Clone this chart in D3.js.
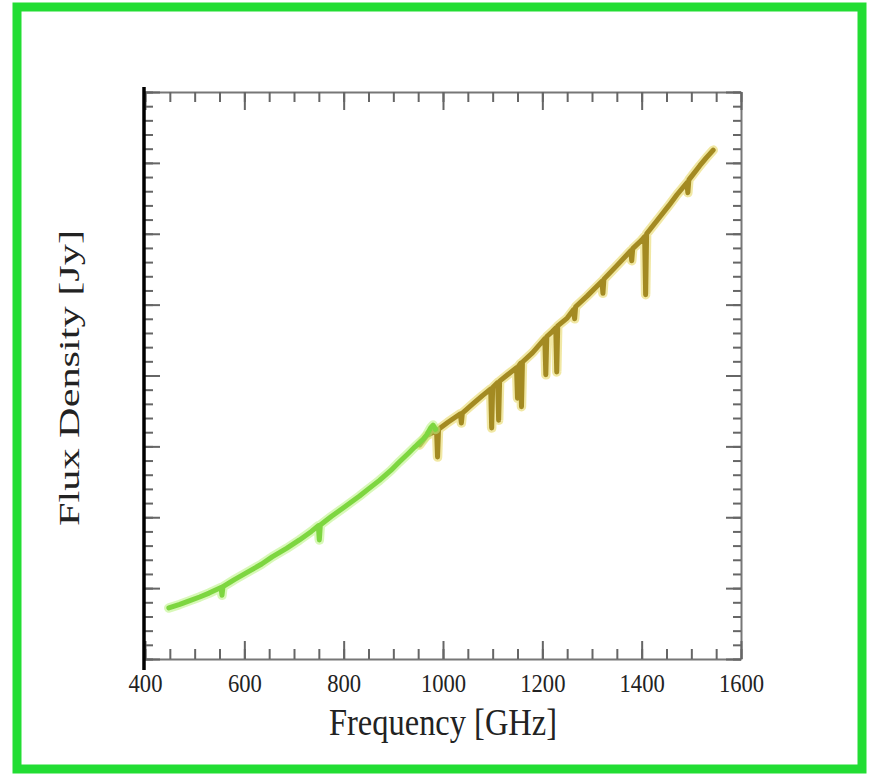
<!DOCTYPE html>
<html>
<head>
<meta charset="utf-8">
<script src="https://cdn.jsdelivr.net/npm/d3@7"></script>
<style>
  body { margin: 0; background: #fff; }
  svg { display: block; }
  text { font-family: 'Liberation Serif', 'DejaVu Serif', serif; fill: #222; }
</style>
</head>
<body>
<div id="root"></div>
<script>
// green spectrum (low frequency band)
const greenFreq = [448, 470, 489, 510, 529, 553, 555, 557, 580, 610, 635, 656, 685, 711, 735, 749, 751, 753,
  775, 801, 832, 850, 872, 895, 912, 930, 943, 960, 967, 975, 980, 985];
const greenFlux = [0.72, 0.77, 0.82, 0.875, 0.93, 1.01, 0.90, 1.02, 1.12, 1.24, 1.34, 1.44, 1.56, 1.68, 1.80, 1.88, 1.68, 1.89,
  2.01, 2.14, 2.30, 2.40, 2.52, 2.66, 2.78, 2.90, 2.99, 3.10, 3.16, 3.26, 3.30, 3.24];

// olive spectrum (high frequency band), narrow dips are absorption lines
const oliveFreq = [953, 967, 980, 987, 989, 991, 1010, 1035, 1037, 1039, 1060, 1080, 1096, 1098, 1100, 1110, 1112, 1114,
  1130, 1148, 1150, 1152, 1156, 1158, 1160, 1180, 1205, 1207, 1209, 1220, 1227, 1229, 1231, 1250, 1263, 1265, 1267,
  1290, 1320, 1322, 1324, 1350, 1378, 1380, 1382, 1400, 1406, 1408, 1410, 1437, 1455, 1471, 1491, 1493, 1495,
  1517, 1530, 1544];
const oliveFlux = [3.02, 3.15, 3.20, 3.23, 2.85, 3.24, 3.34, 3.46, 3.33, 3.47, 3.60, 3.72, 3.81, 3.26, 3.83, 3.90, 3.37, 3.92,
  4.01, 4.11, 3.68, 4.13, 4.17, 3.56, 4.19, 4.32, 4.52, 4.01, 4.55, 4.62, 4.67, 4.05, 4.70, 4.81, 4.93, 4.80, 4.97,
  5.12, 5.33, 5.16, 5.36, 5.55, 5.76, 5.62, 5.79, 5.91, 5.96, 5.14, 6.00, 6.24, 6.40, 6.55, 6.72, 6.58, 6.76,
  6.96, 7.07, 7.18];

// ticks
const xMajor = [400, 600, 800, 1000, 1200, 1400, 1600];
const xMinor = d3.range(400, 1601, 50);
const yMajor = d3.range(0, 9);
const yMinor = d3.range(0, 41).map(i => i / 5);

const w = 869;
const h = 776;

const svg = d3.select('#root')
  .append('svg')
  .attr('width', w)
  .attr('height', h);

svg.append('rect')
  .attr('width', w)
  .attr('height', h)
  .attr('fill', '#fff');

// green frame
svg.append('rect')
  .attr('x', 17)
  .attr('y', 7)
  .attr('width', 845)
  .attr('height', 762)
  .attr('fill', 'none')
  .attr('stroke', '#22dd33')
  .attr('stroke-width', 9);

const xScale = d3.scaleLinear().domain([400, 1600]).range([145, 741]);
const yScale = d3.scaleLinear().domain([0, 8]).range([659, 92]);

function styleAxis(g, showDomain) {
  g.select('.domain')
    .attr('stroke', showDomain ? '#777' : 'none')
    .attr('stroke-width', 2);
  g.selectAll('.tick line')
    .attr('stroke', '#666')
    .attr('stroke-width', 2);
}

// minor ticks (all inward)
const bottomMinor = svg.append('g')
  .attr('transform', `translate(0, ${yScale(0)})`)
  .call(d3.axisBottom(xScale).tickValues(xMinor).tickSize(-10).tickSizeOuter(0).tickFormat(''));
styleAxis(bottomMinor, true);

const topMinor = svg.append('g')
  .attr('transform', `translate(0, ${yScale(8)})`)
  .call(d3.axisTop(xScale).tickValues(xMinor).tickSize(-10).tickSizeOuter(0).tickFormat(''));
styleAxis(topMinor, true);

const rightMinor = svg.append('g')
  .attr('transform', `translate(${xScale(1600)}, 0)`)
  .call(d3.axisRight(yScale).tickValues(yMinor).tickSize(-8).tickSizeOuter(0).tickFormat(''));
styleAxis(rightMinor, true);

const leftMinor = svg.append('g')
  .attr('transform', `translate(${xScale(400)}, 0)`)
  .call(d3.axisLeft(yScale).tickValues(yMinor).tickSize(-8).tickSizeOuter(0).tickFormat(''));
styleAxis(leftMinor, false);

// major ticks
const bottomMajor = svg.append('g')
  .attr('transform', `translate(0, ${yScale(0)})`)
  .call(d3.axisBottom(xScale).tickValues(xMajor).tickSize(-18).tickSizeOuter(0).tickPadding(15).tickFormat(d3.format('d')));
styleAxis(bottomMajor, false);
bottomMajor.selectAll('.tick text')
  .attr('font-family', "'Liberation Serif', serif")
  .attr('font-size', 26)
  .attr('fill', '#333')
  .attr('textLength', d => String(d).length * 11.3)
  .attr('lengthAdjust', 'spacingAndGlyphs');

const topMajor = svg.append('g')
  .attr('transform', `translate(0, ${yScale(8)})`)
  .call(d3.axisTop(xScale).tickValues(xMajor).tickSize(-18).tickSizeOuter(0).tickFormat(''));
styleAxis(topMajor, false);

const rightMajor = svg.append('g')
  .attr('transform', `translate(${xScale(1600)}, 0)`)
  .call(d3.axisRight(yScale).tickValues(yMajor).tickSize(-15).tickSizeOuter(0).tickFormat(''));
styleAxis(rightMajor, false);

const leftMajor = svg.append('g')
  .attr('transform', `translate(${xScale(400)}, 0)`)
  .call(d3.axisLeft(yScale).tickValues(yMajor).tickSize(-15).tickSizeOuter(0).tickFormat(''));
styleAxis(leftMajor, false);

// thick black left axis line
svg.append('line')
  .attr('x1', xScale(400) - 1)
  .attr('x2', xScale(400) - 1)
  .attr('y1', yScale(8) - 5)
  .attr('y2', yScale(0) + 11)
  .attr('stroke', '#000')
  .attr('stroke-width', 3.5);

// spectra
const line = d3.line()
  .x(d => xScale(d[0]))
  .y(d => yScale(d[1]));

const green = greenFreq.map((f, i) => [f, greenFlux[i]]);
const olive = oliveFreq.map((f, i) => [f, oliveFlux[i]]);

function drawSpectrum(data, halo, core) {
  svg.append('path')
    .datum(data)
    .attr('d', line)
    .attr('fill', 'none')
    .attr('stroke', halo)
    .attr('stroke-opacity', 0.55)
    .attr('stroke-width', 9.5)
    .attr('stroke-linejoin', 'round')
    .attr('stroke-linecap', 'round');
  svg.append('path')
    .datum(data)
    .attr('d', line)
    .attr('fill', 'none')
    .attr('stroke', core)
    .attr('stroke-width', 5)
    .attr('stroke-linejoin', 'round')
    .attr('stroke-linecap', 'round');
}

drawSpectrum(olive, '#e6d65a', '#a38a22');
drawSpectrum(green, '#b8f27e', '#7dd640');

// axis titles
svg.append('text')
  .attr('x', 443)
  .attr('y', 735)
  .attr('text-anchor', 'middle')
  .attr('font-size', 37)
  .attr('textLength', 228)
  .attr('lengthAdjust', 'spacingAndGlyphs')
  .text('Frequency [GHz]');

svg.append('text')
  .attr('transform', 'translate(79, 378) rotate(-90)')
  .attr('text-anchor', 'middle')
  .attr('font-size', 30)
  .attr('textLength', 296)
  .attr('lengthAdjust', 'spacingAndGlyphs')
  .text('Flux Density [Jy]');
</script>
</body>
</html>
